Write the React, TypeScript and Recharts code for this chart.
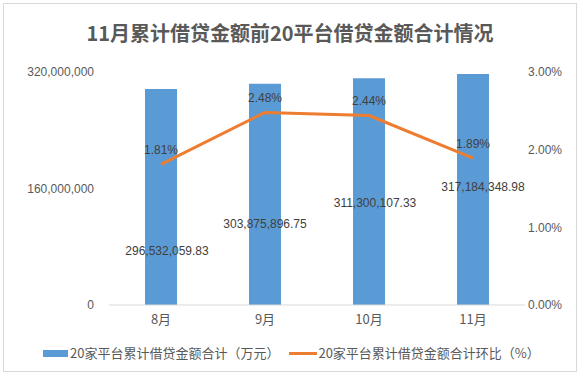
import React from 'react';
import { ComposedChart, Bar, Line, XAxis, YAxis, LabelList } from 'recharts';

const months = ['8月', '9月', '10月', '11月'];
const loanTotals = [296532059.83, 303875896.75, 311300107.33, 317184348.98];
const growthRates = [1.81, 2.48, 2.44, 1.89];
const leftTicks = [0, 160000000, 320000000];
const rightTicks = [0, 1, 2, 3];

const chartData = months.map((month, i) => ({
  month,
  total: loanTotals[i],
  rate: growthRates[i],
}));

// where Excel left each value label (lift above the bar base, sideways nudge)
const labelLift = [54, 81, 102, 118];
const labelNudge = [6, 0, 6, 10];

const gray = '#595959';
const tickFont = { fontSize: 12, fill: gray, fontFamily: '"Liberation Sans", Arial, sans-serif' };

const formatTotal = (v: number) =>
  v.toLocaleString('en-US', { minimumFractionDigits: 2, maximumFractionDigits: 2 });

const TotalLabel = (props: any) => {
  const { x, y, width, height, value } = props;
  const i = props.index ?? loanTotals.indexOf(value);
  const base = Number(y) + Number(height);
  return (
    <text
      x={Number(x) + Number(width) / 2 + (labelNudge[i] || 0)}
      y={base - (labelLift[i] || 0)}
      textAnchor="middle"
      dominantBaseline="central"
      fontSize={12}
      fill="#404040"
      fontFamily='"Liberation Sans", Arial, sans-serif'
    >
      {formatTotal(Number(value))}
    </text>
  );
};

export default function App() {
  return (
    <div style={{ position: 'absolute', left: 0, top: 0, width: 580, height: 375, background: '#fff' }}>
      <div
        style={{
          position: 'absolute',
          left: 3,
          top: 3,
          width: 572,
          height: 367,
          border: '1px solid #d9d9d9',
        }}
      />
      <div
        style={{
          position: 'absolute',
          top: 19,
          left: 0,
          width: 580,
          textAlign: 'center',
          fontFamily: '"Noto Sans CJK SC", sans-serif',
          fontWeight: 700,
          fontSize: 20,
          lineHeight: '28px',
          color: gray,
        }}
      >
        11月累计借贷金额前20平台借贷金额合计情况
      </div>
      <ComposedChart
        width={580}
        height={375}
        data={chartData}
        margin={{ top: 72, right: 0, bottom: 40, left: 0 }}
        style={{ position: 'absolute', left: 0, top: 0 }}
      >
        <XAxis
          dataKey="month"
          axisLine={{ stroke: '#d9d9d9' }}
          tickLine={false}
          tickSize={0}
          tickMargin={10}
          height={30}
          tick={{ fontSize: 13, fill: gray, fontFamily: '"Noto Sans CJK SC", sans-serif' }}
        />
        <YAxis
          yAxisId="left"
          width={109}
          domain={[0, 320000000]}
          ticks={leftTicks}
          axisLine={false}
          tickLine={false}
          tickSize={0}
          tickMargin={15}
          tick={tickFont}
          tickFormatter={(v: number) => v.toLocaleString('en-US')}
        />
        <YAxis
          yAxisId="right"
          orientation="right"
          width={55}
          domain={[0, 3]}
          ticks={rightTicks}
          axisLine={false}
          tickLine={false}
          tickSize={0}
          tickMargin={3}
          tick={tickFont}
          tickFormatter={(v: number) => `${v.toFixed(2)}%`}
        />
        <Bar yAxisId="left" dataKey="total" fill="#5b9bd5" barSize={32} isAnimationActive={false}>
          <LabelList dataKey="total" content={TotalLabel} />
        </Bar>
        <Line
          yAxisId="right"
          type="linear"
          dataKey="rate"
          stroke="#ed7d31"
          strokeWidth={3}
          strokeLinejoin="round"
          dot={false}
          activeDot={false}
          isAnimationActive={false}
        >
          <LabelList
            dataKey="rate"
            position="top"
            offset={10}
            fontSize={12}
            fill="#404040"
            fontFamily='"Liberation Sans", Arial, sans-serif'
            formatter={(v: any) => `${Number(v).toFixed(2)}%`}
          />
        </Line>
      </ComposedChart>
      <div
        style={{
          position: 'absolute',
          top: 343,
          left: 43,
          display: 'flex',
          alignItems: 'center',
          fontFamily: '"Noto Sans CJK SC", sans-serif',
          fontSize: 13,
          color: gray,
          whiteSpace: 'nowrap',
          lineHeight: '20px',
        }}
      >
        <span style={{ display: 'inline-block', width: 25, height: 7, background: '#5b9bd5', marginRight: 2 }} />
        <span>20家平台累计借贷金额合计（万元）</span>
        <span
          style={{ display: 'inline-block', width: 28, height: 3, background: '#ed7d31', marginLeft: 10, marginRight: 1 }}
        />
        <span>20家平台累计借贷金额合计环比（%）</span>
      </div>
    </div>
  );
}
